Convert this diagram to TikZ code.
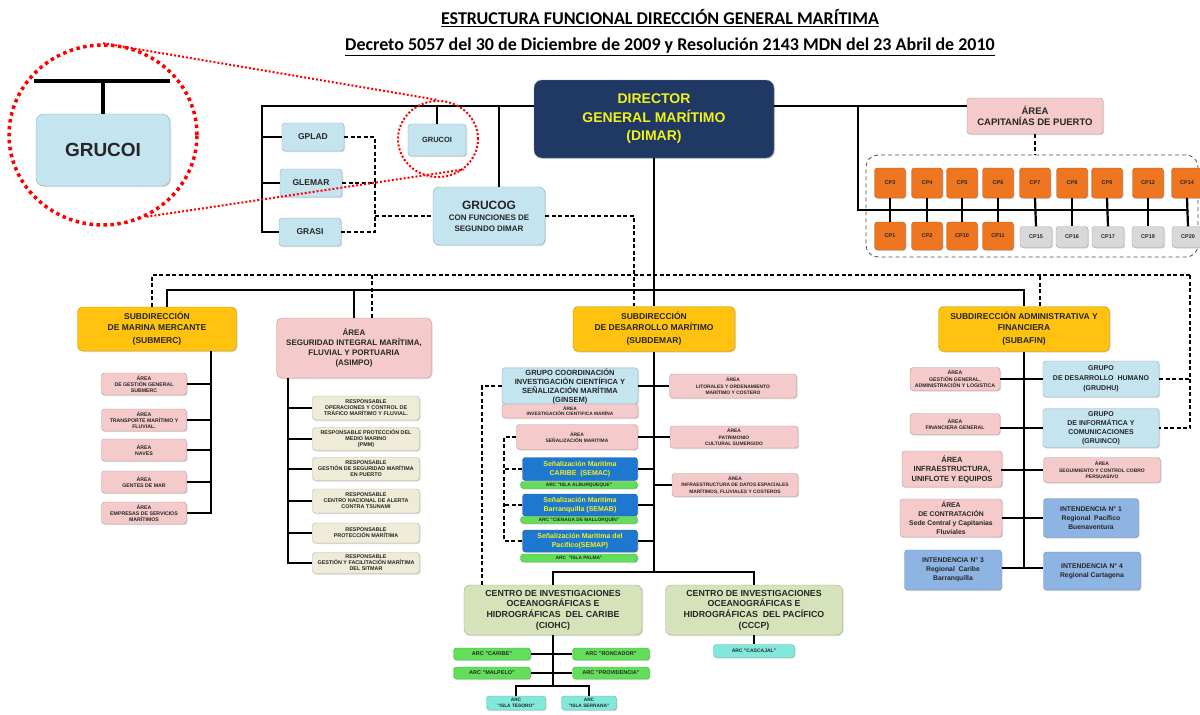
\documentclass[tikz,border=0pt]{standalone}
\usepackage{fontspec}
\setmainfont{Liberation Sans}
\newfontfamily\carlito{Carlito}
\usetikzlibrary{shapes.geometric}
\usetikzlibrary{shadows}

\definecolor{marino}{HTML}{1F3864}
\definecolor{amarillo}{HTML}{F2F21A}
\definecolor{oro}{HTML}{FFC20E}
\definecolor{rosa}{HTML}{F4CACA}
\definecolor{celeste}{HTML}{C4E4F0}
\definecolor{naranja}{HTML}{EE7620}
\definecolor{gris}{HTML}{D8D8D8}
\definecolor{beige}{HTML}{EEEBD7}
\definecolor{oliva}{HTML}{D6E3BA}
\definecolor{azulsen}{HTML}{1F78D0}
\definecolor{verdearc}{HTML}{62DE5A}
\definecolor{aqua}{HTML}{82E8DA}
\definecolor{azulint}{HTML}{8DB4E2}

\tikzset{
  caja/.style={draw=#1!75!black, fill=#1, rounded corners=3pt, line width=0.4pt,
    align=center, inner sep=0.5pt, text=black!85,
    drop shadow={opacity=0.3, shadow xshift=1pt, shadow yshift=-1pt}},
  letra/.style args={#1/#2}{font=\fontsize{#1}{#2}\selectfont\bfseries},
  titulo/.style={font=\carlito\fontsize{18}{21}\selectfont\bfseries},
  linea/.style={line width=2.2pt, black},
  guiones/.style={line width=1.6pt, black, dash pattern=on 4pt off 2.5pt},
  lupa/.style={ellipse, draw=red, line width=3.5pt, dash pattern=on 3.5pt off 3.5pt},
  lupita/.style={line width=2pt, red, dash pattern=on 2pt off 2pt},
}

\begin{document}
\begin{tikzpicture}[x=1pt,y=-1pt]
\useasboundingbox (0,0) rectangle (1200,715);

% titulos
\node[titulo] (titulo) at (660,18) {\underline{ESTRUCTURA FUNCIONAL DIRECCIÓN GENERAL MARÍTIMA}};
\node[titulo] (decreto) at (670,47) {\underline{Decreto 5057 del 30 de Diciembre de 2009 y Resolución 2143 MDN del 23 Abril de 2010}};

% direccion
\node[caja=marino, draw=marino!60, text=amarillo, letra=14/18.5, rounded corners=8pt,
  minimum width=240pt, minimum height=78pt] (dimar) at (654,119) {DIRECTOR\\GENERAL MARÍTIMO\\(DIMAR)};

% grupos del director
\node[caja=celeste, letra=8.5/10, minimum width=62pt, minimum height=28pt] (gplad) at (313,137) {GPLAD};
\node[caja=celeste, letra=8.5/10, minimum width=62pt, minimum height=28pt] (glemar) at (311,183) {GLEMAR};
\node[caja=celeste, letra=8.5/10, minimum width=62pt, minimum height=28pt] (grasi) at (310,232) {GRASI};
\node[caja=celeste, letra=7.5/9, minimum width=58pt, minimum height=32pt] (grucoi) at (437,140) {GRUCOI};
\node[caja=celeste, letra=8/11, rounded corners=6pt, minimum width=112pt, minimum height=58pt] (grucog) at (489,216)
  {{\fontsize{12}{13}\selectfont GRUCOG}\\CON FUNCIONES DE\\SEGUNDO DIMAR};

\coordinate (nwbus) at (262,106);
\coordinate (gbus) at (375,216);
\draw[linea] (dimar.west |- nwbus) -- (nwbus) |- (grasi.west);
\draw[linea] (gplad.west -| nwbus) -- (gplad.west);
\draw[linea] (glemar.west -| nwbus) -- (glemar.west);
\draw[linea] (grucoi.north) -- (grucoi.north |- nwbus);
\draw[linea] ([xshift=10pt]grucog.north) -- ([xshift=10pt]grucog.north |- nwbus);
\draw[guiones] (gplad.east) -| (gbus |- grasi) -- (grasi.east);
\draw[guiones] (glemar.east) -- (gbus |- glemar);
\draw[guiones] (gbus) -- (grucog.west);

% capitanias de puerto
\node[caja=rosa, letra=9.5/11, minimum width=136pt, minimum height=36pt] (capitanias) at (1035,116) {ÁREA\\CAPITANÍAS DE PUERTO};
\node[draw=black!70, line width=0.8pt, dash pattern=on 4pt off 3pt, rounded corners=12pt,
  minimum width=332pt, minimum height=102pt] (cpmarco) at (1032,206) {};

\node[caja=naranja, letra=5.5/6, minimum width=31pt, minimum height=30pt] (cp3) at (890,183) {CP3};
\node[caja=naranja, letra=5.5/6, minimum width=31pt, minimum height=30pt] (cp4) at (927,183) {CP4};
\node[caja=naranja, letra=5.5/6, minimum width=31pt, minimum height=30pt] (cp5) at (962,183) {CP5};
\node[caja=naranja, letra=5.5/6, minimum width=31pt, minimum height=30pt] (cp6) at (998,183) {CP6};
\node[caja=naranja, letra=5.5/6, minimum width=31pt, minimum height=30pt] (cp7) at (1035,183) {CP7};
\node[caja=naranja, letra=5.5/6, minimum width=31pt, minimum height=30pt] (cp8) at (1072,183) {CP8};
\node[caja=naranja, letra=5.5/6, minimum width=31pt, minimum height=30pt] (cp9) at (1107,183) {CP9};
\node[caja=naranja, letra=5.5/6, minimum width=31pt, minimum height=30pt] (cp12) at (1148,183) {CP12};
\node[caja=naranja, letra=5.5/6, minimum width=31pt, minimum height=30pt] (cp14) at (1187,183) {CP14};
\node[caja=naranja, letra=5.5/6, minimum width=31pt, minimum height=28pt] (cp1) at (890,236) {CP1};
\node[caja=naranja, letra=5.5/6, minimum width=31pt, minimum height=28pt] (cp2) at (927,236) {CP2};
\node[caja=naranja, letra=5.5/6, minimum width=31pt, minimum height=28pt] (cp10) at (962,236) {CP10};
\node[caja=naranja, letra=5.5/6, minimum width=31pt, minimum height=28pt] (cp11) at (998,236) {CP11};
\node[caja=gris, letra=5.5/6, minimum width=32pt, minimum height=21pt] (cp15) at (1036,237) {CP15};
\node[caja=gris, letra=5.5/6, minimum width=32pt, minimum height=21pt] (cp16) at (1072,237) {CP16};
\node[caja=gris, letra=5.5/6, minimum width=32pt, minimum height=21pt] (cp17) at (1108,237) {CP17};
\node[caja=gris, letra=5.5/6, minimum width=32pt, minimum height=21pt] (cp19) at (1148,237) {CP19};
\node[caja=gris, letra=5.5/6, minimum width=32pt, minimum height=21pt] (cp20) at (1188,237) {CP20};

\coordinate (cpcodo) at (858,106);
\coordinate (cpbus) at (858,210);
\draw[linea] (dimar.east |- cpcodo) -- (capitanias.west |- cpcodo);
\draw[linea] (cpcodo) -- (cpbus) -- (cpbus -| cp14);
\draw[guiones] (capitanias.south) -- (capitanias.south |- cpmarco.north);
\draw[linea] (cp3.south) -- (cp1.north);
\draw[linea] (cp4.south) -- (cp2.north);
\draw[linea] (cp5.south) -- (cp10.north);
\draw[linea] (cp6.south) -- (cp11.north);
\draw[linea] (cp7.south) -- (cp15.north);
\draw[linea] (cp8.south) -- (cp16.north);
\draw[linea] (cp9.south) -- (cp17.north);
\draw[linea] (cp12.south) -- (cp19.north);
\draw[linea] (cp14.south) -- (cp20.north);

% subdirecciones
\node[caja=oro, letra=8.5/10.5, rounded corners=5pt, minimum width=159pt, minimum height=44pt] (submerc) at (157,329)
  {SUBDIRECCIÓN\\DE MARINA MERCANTE\\[3pt](SUBMERC)};
\node[caja=rosa, letra=8/10, rounded corners=5pt, minimum width=155pt, minimum height=60pt] (asimpo) at (354,348)
  {ÁREA\\SEGURIDAD INTEGRAL MARÍTIMA,\\FLUVIAL Y PORTUARIA\\(ASIMPO)};
\node[caja=oro, letra=8.5/10.5, rounded corners=5pt, minimum width=162pt, minimum height=45pt] (subdemar) at (654,329)
  {SUBDIRECCIÓN\\DE DESARROLLO MARÍTIMO\\[3pt](SUBDEMAR)};
\node[caja=oro, letra=8.5/10.5, rounded corners=5pt, minimum width=171pt, minimum height=45pt] (subafin) at (1024,329)
  {SUBDIRECCIÓN ADMINISTRATIVA Y\\FINANCIERA\\[3pt](SUBAFIN)};

\coordinate (dnw) at (152,275);
\coordinate (dne) at (1190,275);
\coordinate (snw) at (167,290);
\draw[linea] (dimar.south) -- (subdemar.north);
\draw[linea] ([xshift=10pt]submerc.north) -- ([xshift=10pt]submerc.north |- snw) -- (subafin.north |- snw) -- (subafin.north);
\draw[linea] (asimpo.north) -- (asimpo.north |- snw);
\draw[guiones] (submerc.north -| dnw) -- (dnw) -- (dne);
\draw[guiones] ([xshift=18pt]asimpo.north) -- ([xshift=18pt]asimpo.north |- dnw);
\draw[guiones] ([xshift=16pt]subafin.north) -- ([xshift=16pt]subafin.north |- dnw);
\draw[guiones] (grucog.east) -| ([xshift=-20pt]subdemar.north);

% SUBMERC
\node[caja=rosa, letra=5.2/6, minimum width=85pt, minimum height=22pt] (gesmerc) at (144,384) {ÁREA\\DE GESTIÓN GENERAL\\SUBMERC};
\node[caja=rosa, letra=5.2/6, minimum width=85pt, minimum height=22pt] (transporte) at (144,420) {ÁREA\\TRANSPORTE MARÍTIMO Y\\FLUVIAL.};
\node[caja=rosa, letra=5.2/6, minimum width=85pt, minimum height=22pt] (naves) at (144,450) {ÁREA\\NAVES};
\node[caja=rosa, letra=5.2/6, minimum width=85pt, minimum height=22pt] (gentes) at (144,482) {ÁREA\\GENTES DE MAR};
\node[caja=rosa, letra=5.2/6, minimum width=85pt, minimum height=22pt] (empresas) at (144,513) {ÁREA\\EMPRESAS DE SERVICIOS\\MARÍTIMOS};

\coordinate (mercspine) at (211,351);
\draw[linea] (mercspine) |- (empresas.east);
\draw[linea] (gesmerc.east) -- (gesmerc.east -| mercspine);
\draw[linea] (transporte.east) -- (transporte.east -| mercspine);
\draw[linea] (naves.east) -- (naves.east -| mercspine);
\draw[linea] (gentes.east) -- (gentes.east -| mercspine);

% ASIMPO
\node[caja=beige, letra=5.4/6, minimum width=107pt, minimum height=24pt] (trafico) at (366,408) {RESPONSABLE\\OPERACIONES Y CONTROL DE\\TRÁFICO MARÍTIMO Y FLUVIAL.};
\node[caja=beige, letra=5.4/6, minimum width=107pt, minimum height=23pt] (pmm) at (366,439) {RESPONSABLE PROTECCIÓN DEL\\MEDIO MARINO\\(PMM)};
\node[caja=beige, letra=5.4/6, minimum width=107pt, minimum height=23pt] (puerto) at (366,469) {RESPONSABLE\\GESTIÓN DE SEGURIDAD MARÍTIMA\\EN PUERTO};
\node[caja=beige, letra=5.4/6, minimum width=107pt, minimum height=24pt] (tsunami) at (366,501) {RESPONSABLE\\CENTRO NACIONAL DE ALERTA\\CONTRA TSUNAMI};
\node[caja=beige, letra=5.4/6, minimum width=107pt, minimum height=20pt] (proteccion) at (366,533) {RESPONSABLE\\PROTECCIÓN MARÍTIMA};
\node[caja=beige, letra=5.4/6, minimum width=107pt, minimum height=21pt] (sitmar) at (366,563) {RESPONSABLE\\GESTIÓN Y FACILITACIÓN MARÍTIMA\\DEL SITMAR};

\coordinate (asispine) at (288,378);
\draw[linea] (asispine) |- (sitmar.west);
\draw[linea] (trafico.west -| asispine) -- (trafico.west);
\draw[linea] (pmm.west -| asispine) -- (pmm.west);
\draw[linea] (puerto.west -| asispine) -- (puerto.west);
\draw[linea] (tsunami.west -| asispine) -- (tsunami.west);
\draw[linea] (proteccion.west -| asispine) -- (proteccion.west);

% SUBDEMAR
\node[caja=celeste, letra=7.5/9, minimum width=136pt, minimum height=36pt] (ginsem) at (570,386)
  {GRUPO COORDINACIÓN\\INVESTIGACIÓN CIENTÍFICA Y\\SEÑALIZACIÓN MARÍTIMA\\(GINSEM)};
\node[caja=rosa, letra=4.8/5.5, minimum width=136pt, minimum height=14pt] (invcient) at (570,411) {ÁREA\\INVESTIGACIÓN CIENTIFICA MARÍNA};
\node[caja=rosa, letra=4.9/6.3, minimum width=127pt, minimum height=24pt] (litorales) at (733,386) {ÁREA\\LITORALES Y ORDENAMIENTO\\MARÍTIMO Y COSTERO};
\node[caja=rosa, letra=4.9/6.3, minimum width=121pt, minimum height=25pt] (senal) at (577,437) {ÁREA\\SEÑALIZACIÓN MARITIMA};
\node[caja=rosa, letra=4.9/6.3, minimum width=128pt, minimum height=22pt] (patrimonio) at (734,437) {ÁREA\\PATRIMONIO\\CULTURAL SUMERGIDO};
\node[caja=rosa, letra=4.9/6.3, minimum width=126pt, minimum height=23pt] (infradatos) at (735,485) {ÁREA\\INFRAESTRUCTURA DE DATOS ESPACIALES\\MARÍTIMOS, FLUVIALES Y COSTEROS};

\node[caja=azulsen, text=amarillo, letra=7/9, minimum width=115pt, minimum height=23pt] (semac) at (580,469) {Señalización Maritima\\CARIBE~~(SEMAC)};
\node[caja=verdearc, letra=4.8/5, minimum width=117pt, minimum height=7pt] (albur) at (579,485) {ARC "ISLA ALBURQUEQUE"};
\node[caja=azulsen, text=amarillo, letra=7/9, minimum width=115pt, minimum height=22pt] (semab) at (580,505) {Señalización Maritima\\Barranquilla (SEMAB)};
\node[caja=verdearc, letra=4.8/5, minimum width=117pt, minimum height=7pt] (mallorquin) at (579,520) {ARC "CIENAGA DE MALLORQUÍN"};
\node[caja=azulsen, text=amarillo, letra=7/9, minimum width=115pt, minimum height=22pt] (semap) at (580,541) {Señalización Maritima del\\Pacifico(SEMAP)};
\node[caja=verdearc, letra=4.8/5, minimum width=117pt, minimum height=8pt] (palma) at (579,558) {ARC~~"ISLA PALMA"};

\coordinate (demspine) at (654,572);
\coordinate (senbus) at (504,437);
\draw[linea] (subdemar.south) -- (demspine);
\draw[linea] (ginsem.east) -- (litorales.west);
\draw[linea] (senal.east) -- (patrimonio.west);
\draw[linea] (semac.east) -- (semac.east -| demspine);
\draw[linea] (semab.east) -- (semab.east -| demspine);
\draw[linea] (semap.east) -- (semap.east -| demspine);
\draw[linea] (infradatos.west) -- (infradatos.west -| demspine);
\draw[guiones] (senal.west) -- (senbus) |- (semap.west);
\draw[guiones] (semac.west) -- (semac.west -| senbus);
\draw[guiones] (semab.west) -- (semab.west -| senbus);

% centros de investigacion
\node[caja=oliva, letra=8.8/10.6, rounded corners=6pt, minimum width=178pt, minimum height=50pt] (ciohc) at (553,610)
  {CENTRO DE INVESTIGACIONES\\OCEANOGRÁFICAS E\\HIDROGRÁFICAS~~DEL CARIBE\\(CIOHC)};
\node[caja=oliva, letra=8.8/10.6, rounded corners=6pt, minimum width=177pt, minimum height=50pt] (cccp) at (754,610)
  {CENTRO DE INVESTIGACIONES\\OCEANOGRÁFICAS E\\HIDROGRÁFICAS~~DEL PACÍFICO\\(CCCP)};
\node[caja=aqua, letra=5/6, minimum width=81pt, minimum height=13pt] (cascajal) at (754,651) {ARC "CASCAJAL"};
\node[caja=verdearc, letra=5.5/6, minimum width=77pt, minimum height=12pt] (caribe) at (492,654) {ARC "CARIBE"};
\node[caja=verdearc, letra=5.5/6, minimum width=77pt, minimum height=12pt] (roncador) at (611,654) {ARC "RONCADOR"};
\node[caja=verdearc, letra=5.5/6, minimum width=77pt, minimum height=12pt] (malpelo) at (492,673) {ARC "MALPELO"};
\node[caja=verdearc, letra=5.5/6, minimum width=77pt, minimum height=12pt] (providencia) at (611,673) {ARC "PROVIDENCIA"};
\node[caja=aqua, letra=4.8/5.5, minimum width=59pt, minimum height=14pt] (tesoro) at (516,703) {ARC\\"ISLA TESORO"};
\node[caja=aqua, letra=4.8/5.5, minimum width=55pt, minimum height=14pt] (serrana) at (589,703) {ARC\\"ISLA SERRANA"};

\coordinate (ciospine) at (553,686);
\draw[linea] (ciohc.north) |- (demspine) -| (cccp.north);
\draw[guiones] (ginsem.west) -| ([xshift=-71pt]ciohc.north);
\draw[linea] (cccp.south) -- (cascajal.north);
\draw[linea] (ciohc.south) -- (ciospine);
\draw[linea] (caribe.east) -- (roncador.west);
\draw[linea] (malpelo.east) -- (providencia.west);
\draw[linea] (tesoro.north) |- (ciospine) -| (serrana.north);

% SUBAFIN
\node[caja=rosa, letra=5.2/6.3, minimum width=90pt, minimum height=23pt] (gesfin) at (955,379) {ÁREA\\GESTIÓN GENERAL,\\ADMINISTRACIÓN Y LOGISTICA};
\node[caja=celeste, letra=7/10, minimum width=116pt, minimum height=36pt] (grudhu) at (1101,379) {GRUPO\\DE DESARROLLO~~HUMANO\\(GRUDHU)};
\node[caja=rosa, letra=5.2/6.3, minimum width=90pt, minimum height=21pt] (financiera) at (955,424) {ÁREA\\FINANCIERA GENERAL};
\node[caja=celeste, letra=7/9, minimum width=116pt, minimum height=39pt] (gruinco) at (1101,428) {GRUPO\\DE INFORMÁTICA Y\\COMUNICACIONES\\(GRUINCO)};
\node[caja=rosa, letra=7.5/9.5, minimum width=100pt, minimum height=36pt] (uniflote) at (952,469) {ÁREA\\INFRAESTRUCTURA,\\UNIFLOTE Y EQUIPOS};
\node[caja=rosa, letra=5/6.3, minimum width=117pt, minimum height=25pt] (persuasivo) at (1102,470) {ÁREA\\SEGUIMIENTO Y CONTROL COBRO\\PERSUASIVO};
\node[caja=rosa, letra=6.8/8.7, minimum width=102pt, minimum height=38pt] (contratacion) at (951,518) {ÁREA\\DE CONTRATACIÓN\\Sede Central y Capitanias\\Fluviales};
\node[caja=azulint, letra=6.8/8.7, minimum width=95pt, minimum height=39pt] (intend1) at (1091,518) {INTENDENCIA N° 1\\Regional~~Pacífico\\Buenaventura};
\node[caja=azulint, letra=6.8/9, minimum width=97pt, minimum height=40pt] (intend3) at (953,570) {INTENDENCIA N° 3\\Regional~~Caribe\\Barranquilla};
\node[caja=azulint, letra=6.8/9, minimum width=97pt, minimum height=38pt] (intend4) at (1092,571) {INTENDENCIA N° 4\\Regional Cartagena};

\coordinate (finspine) at (1024,568);
\draw[linea] (subafin.south) -- (finspine);
\draw[linea] (gesfin.east) -- (grudhu.west);
\draw[linea] (gruinco.west -| financiera.east) -- (gruinco.west);
\draw[linea] (uniflote.east) -- (persuasivo.west -| uniflote.east) -- (persuasivo.west);
\draw[linea] (contratacion.east) -- (intend1.west);
\draw[linea] (finspine -| intend3.east) -- (finspine -| intend4.west);
\draw[guiones] (dne) |- (gruinco.east);
\draw[guiones] (grudhu.east) -- (grudhu.east -| dne);

% ampliacion de GRUCOI
\node[caja=celeste, letra=19/22, rounded corners=8pt, minimum width=134pt, minimum height=72pt] (grucoigrande) at (103,150) {GRUCOI};
\coordinate (tizq) at (34,81);
\coordinate (tder) at (170,81);
\draw[line width=4pt] (tizq) -- (tder);
\draw[line width=4pt] (grucoigrande.north) -- (grucoigrande.north |- tizq);
\node[lupa, minimum width=188pt, minimum height=180pt] (lupa) at (103,135) {};
\node[ellipse, draw=red, lupita, minimum width=80pt, minimum height=76pt] (lupita) at (438,139) {};
\draw[lupita] (lupa.north) -- (lupita.north);
\draw[lupita] (lupa.-62) -- (lupita.-50);

\end{tikzpicture}
\end{document}
